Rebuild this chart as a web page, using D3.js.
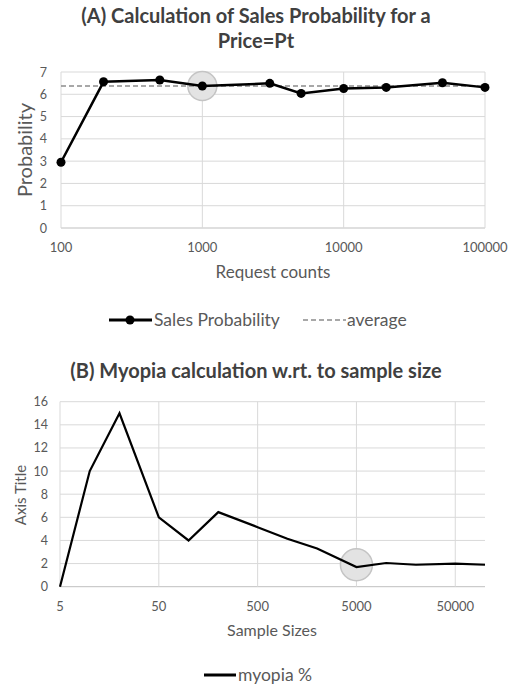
<!DOCTYPE html>
<html>
<head>
<meta charset="utf-8">
<script src="https://cdn.jsdelivr.net/npm/d3@7"></script>
<style>
  body { margin:0; background:#fff; }
  svg text { font-family: Lato, "Open Sans", sans-serif; }
</style>
</head>
<body>
<svg id="chart" width="516" height="688"></svg>
<script>
// chart A data
var requestCounts = [100, 200, 500, 1000, 3000, 5000, 10000, 20000, 50000, 100000];
var salesProb = [2.95, 6.56, 6.64, 6.37, 6.49, 6.04, 6.26, 6.31, 6.52, 6.31];
var avgProb = 6.37;
var ticksA_x = [100, 1000, 10000, 100000];
var ticksA_y = [0, 1, 2, 3, 4, 5, 6, 7];

// chart B data
var sampleSizes = [5, 10, 20, 50, 100, 200, 500, 1000, 2000, 5000, 10000, 20000, 50000, 100000];
var myopia = [0, 10, 15, 6, 4, 6.45, 5.15, 4.15, 3.3, 1.7, 2.05, 1.9, 2.0, 1.9];
var ticksB_x = [5, 50, 500, 5000, 50000];
var ticksB_y = [0, 2, 4, 6, 8, 10, 12, 14, 16];

var svg = d3.select("#chart");
var grid = "#d9d9d9", txt = "#595959", ttl = "#404040";

// ---------- chart A ----------
var xA = d3.scaleLog().domain([100, 100000]).range([61, 485]);
var yA = d3.scaleLinear().domain([0, 7]).range([228, 72]);

svg.append("text").attr("x", 256).attr("y", 23).attr("text-anchor", "middle")
   .attr("font-size", 20).attr("font-weight", "bold").attr("fill", ttl)
   .text("(A) Calculation of Sales Probability for a");
svg.append("text").attr("x", 256).attr("y", 48).attr("text-anchor", "middle")
   .attr("font-size", 20).attr("font-weight", "bold").attr("fill", ttl)
   .text("Price=Pt");

var gA = svg.append("g");
gA.selectAll(".hy").data(ticksA_y).enter().append("line")
  .attr("x1", xA(100)).attr("x2", xA(100000))
  .attr("y1", function(d){ return yA(d); }).attr("y2", function(d){ return yA(d); })
  .attr("stroke", function(d){ return d == 0 ? "#bfbfbf" : grid; }).attr("stroke-width", 1);
gA.selectAll(".vx").data(ticksA_x).enter().append("line")
  .attr("x1", function(d){ return xA(d); }).attr("x2", function(d){ return xA(d); })
  .attr("y1", yA(7)).attr("y2", yA(0))
  .attr("stroke", grid).attr("stroke-width", 1);

gA.selectAll(".ty").data(ticksA_y).enter().append("text")
  .attr("x", 47).attr("y", function(d){ return yA(d) + 4.5; }).attr("text-anchor", "end")
  .attr("font-size", 12.5).attr("fill", txt).text(function(d){ return d; });
gA.selectAll(".tx").data(ticksA_x).enter().append("text")
  .attr("x", function(d){ return xA(d); }).attr("y", 252).attr("text-anchor", "middle")
  .attr("font-size", 13).attr("fill", txt).text(function(d){ return d; });

svg.append("text").attr("x", 273).attr("y", 278).attr("text-anchor", "middle")
   .attr("font-size", 17).attr("fill", txt).text("Request counts");
svg.append("text").attr("transform", "translate(32,150) rotate(-90)").attr("text-anchor", "middle")
   .attr("font-size", 20).attr("fill", txt).text("Probability");

// highlight circle
gA.append("circle").attr("cx", xA(1000)).attr("cy", yA(6.37)).attr("r", 14.5)
  .attr("fill", "#e3e3e3").attr("stroke", "#c4c4c4").attr("stroke-width", 1.5);

// average dashed
gA.append("line").attr("x1", xA(100)).attr("x2", xA(100000))
  .attr("y1", yA(avgProb)).attr("y2", yA(avgProb))
  .attr("stroke", "#8c8c8c").attr("stroke-width", 1.5).attr("stroke-dasharray", "5,3");

var lineA = d3.line().x(function(d, i){ return xA(requestCounts[i]); }).y(function(d){ return yA(d); });
gA.append("path").datum(salesProb).attr("d", lineA)
  .attr("fill", "none").attr("stroke", "#000").attr("stroke-width", 2.5);
gA.selectAll(".pt").data(salesProb).enter().append("circle")
  .attr("cx", function(d, i){ return xA(requestCounts[i]); }).attr("cy", function(d){ return yA(d); })
  .attr("r", 4.5).attr("fill", "#000");

// legend A
svg.append("line").attr("x1", 109).attr("x2", 152).attr("y1", 320).attr("y2", 320)
   .attr("stroke", "#000").attr("stroke-width", 3);
svg.append("circle").attr("cx", 130).attr("cy", 320).attr("r", 4.5).attr("fill", "#000");
svg.append("text").attr("x", 154).attr("y", 326).attr("font-size", 17.5).attr("fill", txt).text("Sales Probability");
svg.append("line").attr("x1", 303).attr("x2", 346).attr("y1", 320).attr("y2", 320)
   .attr("stroke", "#8c8c8c").attr("stroke-width", 1.5).attr("stroke-dasharray", "5,3");
svg.append("text").attr("x", 347).attr("y", 326).attr("font-size", 17.5).attr("fill", txt).text("average");

// ---------- chart B ----------
var xB = d3.scaleLog().domain([5, 100000]).range([60, 485]);
var yB = d3.scaleLinear().domain([0, 16]).range([586.7, 401.7]);

svg.append("text").attr("x", 256).attr("y", 378).attr("text-anchor", "middle")
   .attr("font-size", 20).attr("font-weight", "bold").attr("fill", ttl)
   .text("(B) Myopia calculation w.rt. to sample size");

var gB = svg.append("g");
gB.selectAll(".hy").data(ticksB_y).enter().append("line")
  .attr("x1", xB(5)).attr("x2", xB(100000))
  .attr("y1", function(d){ return yB(d); }).attr("y2", function(d){ return yB(d); })
  .attr("stroke", function(d){ return d == 0 ? "#bfbfbf" : grid; }).attr("stroke-width", 1);
gB.selectAll(".vx").data(ticksB_x).enter().append("line")
  .attr("x1", function(d){ return xB(d); }).attr("x2", function(d){ return xB(d); })
  .attr("y1", yB(16)).attr("y2", yB(0))
  .attr("stroke", grid).attr("stroke-width", 1);

gB.selectAll(".ty").data(ticksB_y).enter().append("text")
  .attr("x", 48).attr("y", function(d){ return yB(d) + 4.5; }).attr("text-anchor", "end")
  .attr("font-size", 12.5).attr("fill", txt).text(function(d){ return d; });
gB.selectAll(".tx").data(ticksB_x).enter().append("text")
  .attr("x", function(d){ return xB(d); }).attr("y", 611).attr("text-anchor", "middle")
  .attr("font-size", 13).attr("fill", txt).text(function(d){ return d; });

svg.append("text").attr("x", 272).attr("y", 636).attr("text-anchor", "middle")
   .attr("font-size", 16).attr("fill", txt).text("Sample Sizes");
svg.append("text").attr("transform", "translate(26,495) rotate(-90)").attr("text-anchor", "middle")
   .attr("font-size", 15).attr("fill", txt).text("Axis Title");

gB.append("circle").attr("cx", xB(5000)).attr("cy", yB(1.9)).attr("r", 16)
  .attr("fill", "#e3e3e3").attr("stroke", "#c4c4c4").attr("stroke-width", 1.5);

var lineB = d3.line().x(function(d, i){ return xB(sampleSizes[i]); }).y(function(d){ return yB(d); });
gB.append("path").datum(myopia).attr("d", lineB)
  .attr("fill", "none").attr("stroke", "#000").attr("stroke-width", 2.2);

// legend B
svg.append("line").attr("x1", 204).attr("x2", 236).attr("y1", 675).attr("y2", 675)
   .attr("stroke", "#000").attr("stroke-width", 3);
svg.append("text").attr("x", 238).attr("y", 681).attr("font-size", 17.5).attr("fill", txt).text("myopia %");
</script>
</body>
</html>
